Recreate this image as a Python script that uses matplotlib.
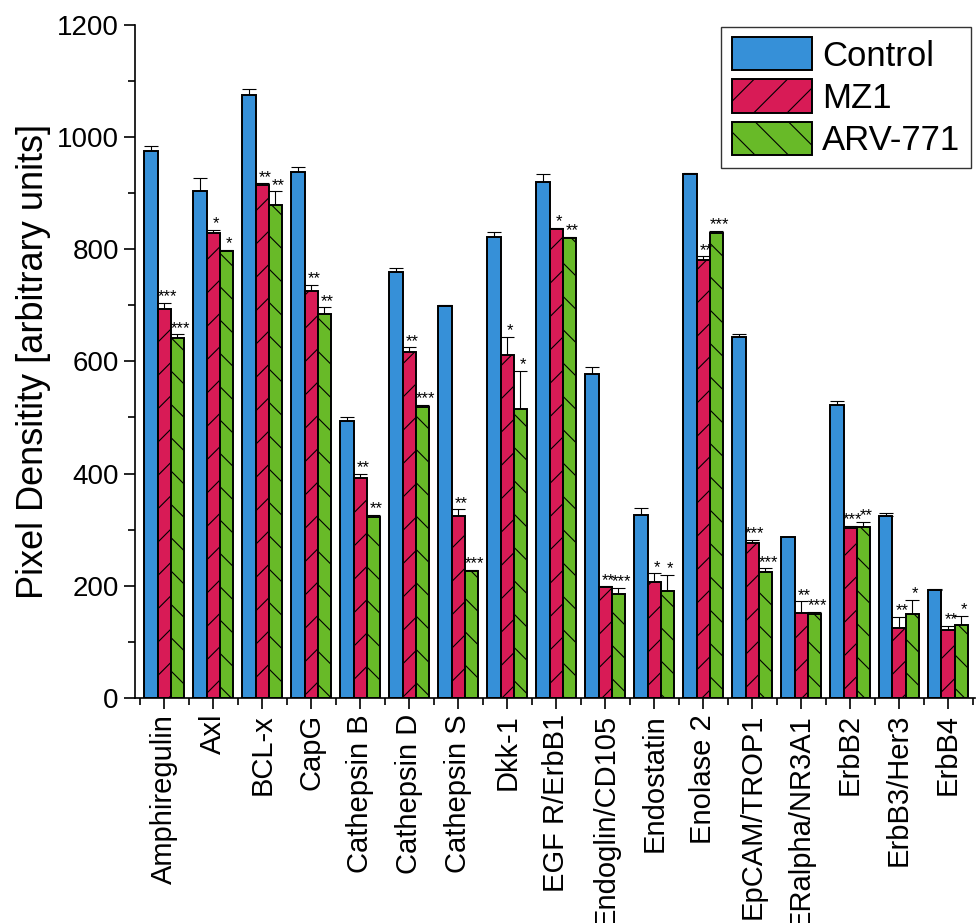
import matplotlib.pyplot as plt
import numpy as np

plt.rcParams['font.family'] = ['Liberation Sans', 'DejaVu Sans']
plt.rcParams['hatch.linewidth'] = 0.8

cats = ["Amphiregulin", "Axl", "BCL-x", "CapG", "Cathepsin B", "Cathepsin D",
        "Cathepsin S", "Dkk-1", "EGF R/ErbB1", "Endoglin/CD105", "Endostatin",
        "Enolase 2", "EpCAM/TROP1", "ERalpha/NR3A1", "ErbB2", "ErbB3/Her3", "ErbB4"]

control = [974, 903, 1075, 937, 493, 759, 698, 821, 919, 577, 326, 934, 643, 286, 522, 325, 193]
control_err = [9, 24, 11, 10, 7, 7, 2, 10, 14, 13, 12, 1, 6, 1, 7, 5, 2]
mz1 = [694, 828, 915, 726, 392, 617, 325, 612, 836, 197, 206, 780, 276, 152, 303, 125, 121]
mz1_err = [10, 6, 2, 10, 7, 8, 11, 32, 2, 2, 16, 7, 6, 20, 4, 19, 7]
arv = [641, 797, 878, 685, 323, 519, 227, 515, 819, 185, 190, 829, 224, 149, 305, 149, 130]
arv_err = [7, 2, 25, 11, 3, 3, 1, 68, 3, 11, 29, 4, 7, 5, 9, 26, 16]

mz1_stars = ["***", "*", "**", "**", "**", "**", "**", "*", "*", "**", "*", "**", "***", "**", "***", "**", "**"]
arv_stars = ["***", "*", "**", "**", "**", "***", "***", "*", "**", "***", "*", "***", "***", "***", "**", "*", "*"]

fig = plt.figure(figsize=(9.77, 9.23), dpi=100)
ax = fig.add_axes([0.138, 0.2438, 0.86, 0.7295])

x = np.arange(len(cats))
w = 0.27
series = [
    (control, control_err, "#3690d8", "", "Control"),
    (mz1, mz1_err, "#d81b56", "/", "MZ1"),
    (arv, arv_err, "#68ba28", "\\", "ARV-771"),
]
for i, (vals, errs, col, hat, lab) in enumerate(series):
    pos = x + (i - 1) * w
    ax.bar(pos, vals, w, color=col, edgecolor="black", linewidth=1.4,
           hatch=hat, label=lab, zorder=2)
    ax.errorbar(pos, vals, yerr=[np.zeros(len(errs)), errs], fmt="none",
                ecolor="black", elinewidth=0.8, capsize=4.7, capthick=0.8, zorder=1)

# significance stars above the error bars
for i in range(len(cats)):
    ax.annotate(mz1_stars[i], (x[i], mz1[i] + mz1_err[i]), xytext=(2, -1),
                textcoords="offset points", ha="center", va="bottom", fontsize=12)
    ax.annotate(arv_stars[i], (x[i] + w, arv[i] + arv_err[i]), xytext=(2, -1),
                textcoords="offset points", ha="center", va="bottom", fontsize=12)

ax.set_xlim(-0.6, 16.55)
ax.set_ylim(0, 1200)
ax.set_xticks(x)
ax.set_xticks(np.append(x - 0.5, x[-1] + 0.5), minor=True)
ax.set_xticklabels(cats, rotation=90, fontsize=21)
ax.set_yticks(range(0, 1201, 200))
ax.set_yticks(range(100, 1200, 200), minor=True)
ax.tick_params(axis="y", labelsize=20)
ax.tick_params(which="major", length=8, width=1.2)
ax.tick_params(which="minor", length=5, width=1.2)
ax.set_ylabel("Pixel Densitity [arbitrary units]", fontsize=26)

ax.spines["top"].set_visible(False)
ax.spines["right"].set_visible(False)
ax.spines["left"].set_linewidth(1.2)
ax.spines["bottom"].set_linewidth(1.2)

leg = ax.legend(loc="upper right", bbox_to_anchor=(0.995, 0.997), borderaxespad=0,
                fontsize=25, fancybox=False, edgecolor="#333333", framealpha=1,
                handlelength=2.3, handleheight=1.1, labelspacing=0.2,
                handletextpad=0.3, borderpad=0.3)
leg.get_frame().set_linewidth(1.0)

fig.savefig("out.png", dpi=100)
